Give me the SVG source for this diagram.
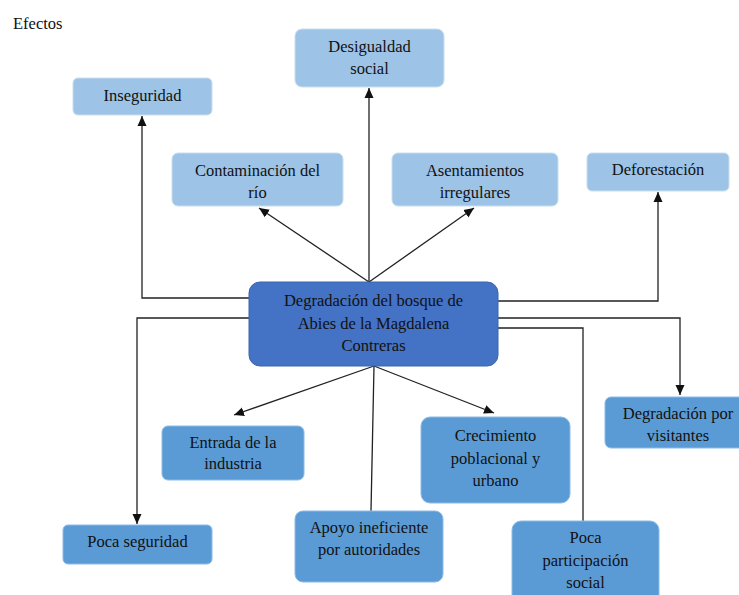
<svg xmlns="http://www.w3.org/2000/svg" width="739" height="595" viewBox="0 0 739 595">
<style>
text{font-family:'Liberation Serif','DejaVu Serif','Noto Serif',serif;font-size:16.5px;fill:#111;text-anchor:middle}
.l{fill:#9DC3E6;stroke:#c9def0;stroke-width:1}
.m{fill:#5B9BD5;stroke:#8cbbe6;stroke-width:1}
.c{fill:#4472C4;stroke:#3a64ad;stroke-width:1}
.e{fill:none;stroke:#222;stroke-width:1.3}
</style>
<defs>
<marker id="a" markerWidth="10" markerHeight="10" viewBox="0 0 10 10" refX="10" refY="5" orient="auto" markerUnits="userSpaceOnUse">
<path d="M0,0.5 L10,5 L0,9.5 Z" fill="#111"/>
</marker>
</defs>
<rect width="739" height="595" fill="#fff"/>
<text x="13" y="29" style="text-anchor:start">Efectos</text>
<g id="connectors">
<polyline class="e" points="249,298 142,298 142,116" marker-end="url(#a)"/>
<line class="e" x1="369" y1="282" x2="369" y2="88" marker-end="url(#a)"/>
<line class="e" x1="369" y1="282" x2="259" y2="208" marker-end="url(#a)"/>
<line class="e" x1="369" y1="282" x2="474" y2="208" marker-end="url(#a)"/>
<polyline class="e" points="498,301 658,301 658,192" marker-end="url(#a)"/>
<polyline class="e" points="249,318 137,318 137,524" marker-end="url(#a)"/>
<polyline class="e" points="498,318 680,318 680,395" marker-end="url(#a)"/>
<polyline class="e" points="498,328 583,328 583,521"/>
<line class="e" x1="374" y1="366" x2="371" y2="511"/>
<line class="e" x1="374" y1="366" x2="234" y2="415" marker-end="url(#a)"/>
<line class="e" x1="374" y1="366" x2="494" y2="413" marker-end="url(#a)"/>
</g>
<g id="inseguridad"><rect class="l" x="73" y="78" width="139" height="37" rx="5"/><text x="142.5" y="101">Inseguridad</text></g>
<g id="desigualdad"><rect class="l" x="295" y="29" width="149" height="58" rx="7"/><text x="369.5" y="52">Desigualdad</text><text x="369.5" y="74">social</text></g>
<g id="contaminacion"><rect class="l" x="172" y="153" width="171" height="53" rx="6"/><text x="257.5" y="176">Contaminación del</text><text x="257.5" y="198">río</text></g>
<g id="asentamientos"><rect class="l" x="392" y="153" width="166" height="53" rx="6"/><text x="475" y="176">Asentamientos</text><text x="475" y="198">irregulares</text></g>
<g id="deforestacion"><rect class="l" x="587" y="153" width="142" height="38" rx="5"/><text x="658" y="175">Deforestación</text></g>
<g id="central"><rect class="c" x="249" y="282" width="249" height="84" rx="11"/><text x="373.5" y="306">Degradación del bosque de</text><text x="373.5" y="329">Abies de la Magdalena</text><text x="373.5" y="351">Contreras</text></g>
<g id="entrada"><rect class="m" x="162" y="426" width="142" height="54" rx="6"/><text x="233" y="448">Entrada de la</text><text x="233" y="469">industria</text></g>
<g id="crecimiento"><rect class="m" x="421" y="417" width="149" height="86" rx="9"/><text x="495.5" y="441">Crecimiento</text><text x="495.5" y="464">poblacional y</text><text x="495.5" y="486">urbano</text></g>
<g id="visitantes"><rect class="m" x="605" y="397" width="146" height="51" rx="6"/><text x="678" y="419">Degradación por</text><text x="678" y="441">visitantes</text></g>
<g id="pocaseguridad"><rect class="m" x="63" y="525" width="149" height="39" rx="5"/><text x="137.5" y="547">Poca seguridad</text></g>
<g id="apoyo"><rect class="m" x="295" y="511" width="148" height="71" rx="8"/><text x="369" y="533">Apoyo ineficiente</text><text x="369" y="555">por autoridades</text></g>
<g id="participacion"><rect class="m" x="512" y="521" width="147" height="90" rx="9"/><text x="585.5" y="543">Poca</text><text x="585.5" y="566">participación</text><text x="585.5" y="588">social</text></g>
</svg>
